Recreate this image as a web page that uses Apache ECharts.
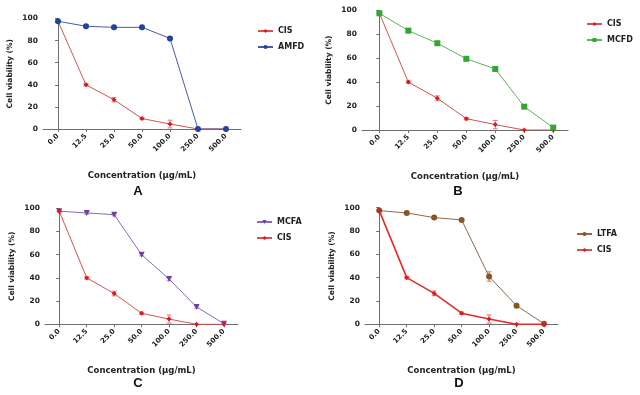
<!DOCTYPE html>
<html><head><meta charset="utf-8">
<script src="https://cdn.jsdelivr.net/npm/echarts@6/dist/echarts.min.js"></script>
<style>html,body{margin:0;padding:0;background:#fff}#c{width:640px;height:395px}</style>
</head><body><div id="c"></div>
<script>
const categories = ['0.0','12.5','25.0','50.0','100.0','250.0','500.0'];
const cis = [97.5, 40, 26.5, 9.5, 4.5, 0, 0];
const cisErr = [0.5, 1, 2, 1, 3.5, 0, 0];
const amfd = [97.5, 93, 92, 92, 82, 0, 0];
const amfdErr = [0.5, 1, 1, 1, 1, 0, 0];
const mcfd = [97.5, 83, 72.5, 59.5, 51, 19.5, 2];
const mcfdErr = [0.5, 1, 1, 1, 2, 1, 1];
const mcfa = [97.5, 96, 94.5, 60, 39, 15, 0.5];
const mcfaErr = [0.5, 1, 1, 1, 1.5, 1, 0.5];
const ltfa = [97.5, 95.5, 91.5, 89.5, 41, 16, 0.5];
const ltfaErr = [0.5, 1, 1, 1, 4, 1, 0.5];
const yTicks = [0, 20, 40, 60, 80, 100];
const panelLetters = ['A','B','C','D'];

const FONT = 'DejaVu Sans';
const axisGrey = '#6e6e6e';

const grids = [
  {left: 43, top: 18.5, width: 198, height: 110.5, xmin: -0.536, xmax: 6.536},
  {left: 362, top: 10.3, width: 206, height: 119.7, xmin: -0.6, xmax: 6.51},
  {left: 45, top: 208.3, width: 193, height: 116, xmin: -0.52, xmax: 6.51},
  {left: 365, top: 207.7, width: 193, height: 116.6, xmin: -0.52, xmax: 6.51}
];

const idx = categories.map((c, i) => i);

function xAxisFor(g, i) {
  return {
    type: 'value', gridIndex: i, min: g.xmin, max: g.xmax,
    splitLine: {show: false},
    axisLine: {show: true, onZero: false, lineStyle: {color: axisGrey, width: 1}},
    axisTick: {show: true, customValues: idx, length: 3, lineStyle: {color: axisGrey}},
    axisLabel: {customValues: idx, rotate: 45, margin: 6, fontFamily: FONT, fontWeight: 'bold', fontSize: 7, color: '#222',
      formatter: v => categories[Math.round(v)]},
    name: 'Concentration (µg/mL)', nameLocation: 'middle', nameGap: 42,
    nameTextStyle: {fontFamily: FONT, fontWeight: 'bold', fontSize: 8.5, color: '#222'}
  };
}
function yAxisFor(g, i) {
  return {
    type: 'value', gridIndex: i, min: 0, max: 100, interval: 20,
    splitLine: {show: false},
    axisLine: {show: true, lineStyle: {color: axisGrey, width: 1}},
    axisTick: {show: true, length: 3, lineStyle: {color: axisGrey}},
    axisLabel: {margin: 5, fontFamily: FONT, fontWeight: 'bold', fontSize: 7.5, color: '#222'},
    name: 'Cell viability (%)', nameLocation: 'middle', nameGap: 29, nameRotate: 90,
    nameTextStyle: {fontFamily: FONT, fontWeight: 'bold', fontSize: 7.5, color: '#222'}
  };
}

function lineSeries(name, data, gi, color, lineColor, symbol, size, lw) {
  return {
    type: 'line', name: name, xAxisIndex: gi, yAxisIndex: gi,
    data: data.map((v, i) => [i, v]),
    symbol: symbol, symbolSize: size,
    lineStyle: {color: lineColor, width: lw},
    itemStyle: {color: color},
    z: 3
  };
}
function errSeries(name, data, err, gi, color) {
  return {
    type: 'custom', name: name + ' err', xAxisIndex: gi, yAxisIndex: gi,
    data: data.map((v, i) => [i, v, err[i]]),
    renderItem: function (params, api) {
      const x = api.value(0), y = api.value(1), e = api.value(2);
      if (!e) return null;
      const top = api.coord([x, y + e]);
      const bot = api.coord([x, Math.max(0, y - e)]);
      const w = 2.5;
      return {type: 'group', children: [
        {type: 'line', shape: {x1: top[0], y1: top[1], x2: bot[0], y2: bot[1]}, style: {stroke: color, lineWidth: 1}},
        {type: 'line', shape: {x1: top[0]-w, y1: top[1], x2: top[0]+w, y2: top[1]}, style: {stroke: color, lineWidth: 1}},
        {type: 'line', shape: {x1: bot[0]-w, y1: bot[1], x2: bot[0]+w, y2: bot[1]}, style: {stroke: color, lineWidth: 1}}
      ]};
    },
    z: 2, silent: true
  };
}

const RED = '#e3161d', REDLINE = '#d2544f';
const series = [
  errSeries('CIS', cis, cisErr, 0, '#e57a77'),
  lineSeries('CIS', cis, 0, RED, REDLINE, 'diamond', 5, 1),
  errSeries('AMFD', amfd, amfdErr, 0, '#6a78b8'),
  lineSeries('AMFD', amfd, 0, '#2142a0', '#4b58a6', 'circle', 6, 1),

  errSeries('CIS', cis, cisErr, 1, '#e57a77'),
  lineSeries('CIS', cis, 1, RED, REDLINE, 'diamond', 5, 1),
  errSeries('MCFD', mcfd, mcfdErr, 1, '#7cc27c'),
  lineSeries('MCFD', mcfd, 1, '#33a532', '#5cb45c', 'rect', 6, 1),

  errSeries('MCFA', mcfa, mcfaErr, 2, '#a58cc8'),
  lineSeries('MCFA', mcfa, 2, '#7440a0', '#8a68b8', 'triangle', 6, 1),
  errSeries('CIS', cis, cisErr, 2, '#e57a77'),
  lineSeries('CIS', cis, 2, RED, REDLINE, 'diamond', 5, 1),

  errSeries('LTFA', ltfa, ltfaErr, 3, '#a88a6a'),
  lineSeries('LTFA', ltfa, 3, '#8a5520', '#8c6a50', 'circle', 6, 1),
  errSeries('CIS', cis, cisErr, 3, '#e86a6a'),
  lineSeries('CIS', cis, 3, RED, '#e52a2a', 'diamond', 5, 1.6)
];
series[9].symbolRotate = 180;

function legendFor(names, left, top) {
  return {
    left: left, top: top, orient: 'vertical', itemWidth: 15, itemHeight: 5, itemGap: 8,
    data: names, selectedMode: false,
    textStyle: {fontFamily: FONT, fontWeight: 'bold', fontSize: 8, color: '#222'}
  };
}

const chart = echarts.init(document.getElementById('c'), null, {renderer: 'canvas'});
chart.setOption({
  animation: false,
  backgroundColor: '#fff',
  grid: grids.map(g => ({left: g.left, top: g.top, width: g.width, height: g.height, containLabel: false})),
  xAxis: grids.map(xAxisFor),
  yAxis: grids.map(yAxisFor),
  legend: [
    legendFor(['CIS', 'AMFD'], 252, 22),
    legendFor(['CIS', 'MCFD'], 581, 15),
    legendFor(['MCFA', 'CIS'], 251, 213),
    legendFor(['LTFA', 'CIS'], 571, 225)
  ],
  title: [
    {text: panelLetters[0], left: 138, top: 185},
    {text: panelLetters[1], left: 458, top: 185},
    {text: panelLetters[2], left: 138, top: 377},
    {text: panelLetters[3], left: 459, top: 377}
  ].map(t => Object.assign(t, {textAlign: 'center', padding: 0,
    textStyle: {fontFamily: 'Liberation Sans', fontWeight: 'bold', fontSize: 13, color: '#111'}})),
  series: series
});
</script>
</body></html>
